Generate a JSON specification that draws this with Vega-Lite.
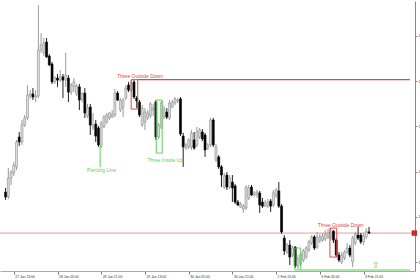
{
  "$schema": "https://vega.github.io/schema/vega-lite/v6.json",
  "width": 415,
  "height": 270,
  "autosize": {"type": "none"},
  "padding": {"left": 0, "top": 1, "right": 5, "bottom": 9},
  "background": "white",
  "config": {"view": {"stroke": null}, "font": "Liberation Sans", "axisX": {"labelOverlap": false, "labelFontSize": 3.4}},
  "datasets": {
    "candles": [
      {"n":-3,"o":1.1331,"h":1.13328,"l":1.13275,"c":1.13288},
      {"n":-2,"o":1.13288,"h":1.13416,"l":1.13279,"c":1.13372},
      {"n":-1,"o":1.13372,"h":1.13407,"l":1.13341,"c":1.13398},
      {"n":0,"o":1.13394,"h":1.13443,"l":1.13381,"c":1.13429},
      {"n":1,"o":1.13421,"h":1.1354,"l":1.13407,"c":1.13531},
      {"n":2,"o":1.13553,"h":1.13575,"l":1.13513,"c":1.13531},
      {"n":3,"o":1.13531,"h":1.13628,"l":1.13518,"c":1.13606},
      {"n":4,"o":1.13606,"h":1.1365,"l":1.13597,"c":1.13637},
      {"n":5,"o":1.13637,"h":1.13782,"l":1.13628,"c":1.13738},
      {"n":6,"o":1.13734,"h":1.1376,"l":1.13721,"c":1.13743},
      {"n":7,"o":1.13743,"h":1.13769,"l":1.13716,"c":1.13729},
      {"n":8,"o":1.13729,"h":1.1376,"l":1.13707,"c":1.13734},
      {"n":9,"o":1.13734,"h":1.14135,"l":1.13725,"c":1.13937},
      {"n":10,"o":1.13937,"h":1.14012,"l":1.13924,"c":1.13959},
      {"n":11,"o":1.13924,"h":1.1399,"l":1.1391,"c":1.13968},
      {"n":12,"o":1.13972,"h":1.1399,"l":1.13902,"c":1.13906},
      {"n":13,"o":1.1391,"h":1.13919,"l":1.13866,"c":1.13871},
      {"n":14,"o":1.13875,"h":1.13884,"l":1.13787,"c":1.13796},
      {"n":15,"o":1.13796,"h":1.13822,"l":1.13787,"c":1.13813},
      {"n":16,"o":1.13813,"h":1.13831,"l":1.13774,"c":1.13804},
      {"n":17,"o":1.13804,"h":1.13849,"l":1.13796,"c":1.13822},
      {"n":18,"o":1.13818,"h":1.13831,"l":1.13725,"c":1.13804},
      {"n":19,"o":1.13804,"h":1.13924,"l":1.13774,"c":1.13826},
      {"n":20,"o":1.13813,"h":1.13826,"l":1.13707,"c":1.13751},
      {"n":21,"o":1.13751,"h":1.13791,"l":1.13738,"c":1.13782},
      {"n":22,"o":1.13778,"h":1.13813,"l":1.13751,"c":1.13796},
      {"n":23,"o":1.13743,"h":1.13787,"l":1.13734,"c":1.13778},
      {"n":24,"o":1.13774,"h":1.13787,"l":1.13672,"c":1.13716},
      {"n":25,"o":1.13721,"h":1.13751,"l":1.13707,"c":1.13743},
      {"n":26,"o":1.13747,"h":1.13769,"l":1.13637,"c":1.13659},
      {"n":27,"o":1.13646,"h":1.13699,"l":1.13637,"c":1.13681},
      {"n":28,"o":1.13685,"h":1.13699,"l":1.13562,"c":1.13606},
      {"n":29,"o":1.13597,"h":1.13659,"l":1.13584,"c":1.13606},
      {"n":30,"o":1.1361,"h":1.13628,"l":1.13531,"c":1.13557},
      {"n":31,"o":1.13593,"h":1.13601,"l":1.13509,"c":1.13518},
      {"n":32,"o":1.13513,"h":1.13624,"l":1.13504,"c":1.13615},
      {"n":33,"o":1.13597,"h":1.1365,"l":1.13593,"c":1.13641},
      {"n":34,"o":1.13619,"h":1.13659,"l":1.1361,"c":1.1365},
      {"n":35,"o":1.13637,"h":1.13663,"l":1.13628,"c":1.13659},
      {"n":36,"o":1.13641,"h":1.13672,"l":1.13637,"c":1.13654},
      {"n":37,"o":1.1365,"h":1.13765,"l":1.13641,"c":1.13747},
      {"n":38,"o":1.13747,"h":1.13756,"l":1.13712,"c":1.13716},
      {"n":39,"o":1.13672,"h":1.13725,"l":1.13663,"c":1.13716},
      {"n":40,"o":1.13681,"h":1.13725,"l":1.13641,"c":1.13716},
      {"n":41,"o":1.13725,"h":1.13782,"l":1.13716,"c":1.13769},
      {"n":42,"o":1.13782,"h":1.13796,"l":1.13751,"c":1.1376},
      {"n":43,"o":1.1376,"h":1.13804,"l":1.13751,"c":1.13791},
      {"n":44,"o":1.13796,"h":1.13804,"l":1.13721,"c":1.13729},
      {"n":45,"o":1.13725,"h":1.13734,"l":1.13681,"c":1.13712},
      {"n":46,"o":1.13707,"h":1.13716,"l":1.13641,"c":1.1365},
      {"n":47,"o":1.13606,"h":1.13694,"l":1.13597,"c":1.13681},
      {"n":48,"o":1.13619,"h":1.13681,"l":1.13584,"c":1.13663},
      {"n":49,"o":1.13637,"h":1.13672,"l":1.13628,"c":1.13659},
      {"n":50,"o":1.13646,"h":1.13707,"l":1.13637,"c":1.13699},
      {"n":51,"o":1.13672,"h":1.13699,"l":1.13646,"c":1.13681},
      {"n":52,"o":1.13707,"h":1.13716,"l":1.1354,"c":1.13553},
      {"n":53,"o":1.13553,"h":1.13615,"l":1.13544,"c":1.13606},
      {"n":54,"o":1.13597,"h":1.13712,"l":1.13588,"c":1.13703},
      {"n":55,"o":1.13641,"h":1.1369,"l":1.13632,"c":1.13676},
      {"n":56,"o":1.13663,"h":1.13681,"l":1.13632,"c":1.13641},
      {"n":57,"o":1.13637,"h":1.13716,"l":1.13628,"c":1.13703},
      {"n":58,"o":1.13685,"h":1.13716,"l":1.13681,"c":1.13707},
      {"n":59,"o":1.13703,"h":1.13729,"l":1.13694,"c":1.13721},
      {"n":60,"o":1.13712,"h":1.13725,"l":1.13703,"c":1.13716},
      {"n":61,"o":1.13721,"h":1.13729,"l":1.13557,"c":1.13566},
      {"n":62,"o":1.13557,"h":1.13571,"l":1.13421,"c":1.13509},
      {"n":63,"o":1.13504,"h":1.13526,"l":1.13496,"c":1.13518},
      {"n":64,"o":1.13509,"h":1.13548,"l":1.135,"c":1.1354},
      {"n":65,"o":1.13509,"h":1.13584,"l":1.13496,"c":1.13571},
      {"n":66,"o":1.1354,"h":1.13575,"l":1.13496,"c":1.13504},
      {"n":67,"o":1.13518,"h":1.13597,"l":1.13509,"c":1.13575},
      {"n":68,"o":1.13553,"h":1.13593,"l":1.13544,"c":1.13584},
      {"n":69,"o":1.13575,"h":1.13588,"l":1.13535,"c":1.13544},
      {"n":70,"o":1.13562,"h":1.13571,"l":1.13465,"c":1.13496},
      {"n":71,"o":1.13504,"h":1.13526,"l":1.13496,"c":1.13518},
      {"n":72,"o":1.13518,"h":1.13637,"l":1.13509,"c":1.13628},
      {"n":73,"o":1.13628,"h":1.13637,"l":1.13509,"c":1.13518},
      {"n":74,"o":1.13451,"h":1.13522,"l":1.13443,"c":1.13509},
      {"n":75,"o":1.13465,"h":1.13473,"l":1.13412,"c":1.13421},
      {"n":76,"o":1.13421,"h":1.13429,"l":1.13332,"c":1.13385},
      {"n":77,"o":1.13332,"h":1.13394,"l":1.13323,"c":1.13381},
      {"n":78,"o":1.13385,"h":1.13398,"l":1.13319,"c":1.13332},
      {"n":79,"o":1.13332,"h":1.13385,"l":1.13323,"c":1.13372},
      {"n":80,"o":1.13354,"h":1.13385,"l":1.13266,"c":1.13328},
      {"n":81,"o":1.13337,"h":1.13346,"l":1.13257,"c":1.13266},
      {"n":82,"o":1.13266,"h":1.13275,"l":1.13248,"c":1.13253},
      {"n":83,"o":1.13244,"h":1.13266,"l":1.1324,"c":1.13257},
      {"n":84,"o":1.13235,"h":1.13257,"l":1.13218,"c":1.13248},
      {"n":85,"o":1.1324,"h":1.13341,"l":1.13231,"c":1.13332},
      {"n":86,"o":1.13284,"h":1.13341,"l":1.13275,"c":1.13328},
      {"n":87,"o":1.13332,"h":1.13341,"l":1.13293,"c":1.13297},
      {"n":88,"o":1.13297,"h":1.13315,"l":1.13288,"c":1.13306},
      {"n":89,"o":1.13301,"h":1.13319,"l":1.13284,"c":1.1331},
      {"n":90,"o":1.13306,"h":1.13315,"l":1.13218,"c":1.13253},
      {"n":91,"o":1.13266,"h":1.13284,"l":1.1324,"c":1.13248},
      {"n":92,"o":1.13248,"h":1.13275,"l":1.13244,"c":1.13262},
      {"n":93,"o":1.13248,"h":1.13279,"l":1.1324,"c":1.13266},
      {"n":94,"o":1.1327,"h":1.13279,"l":1.13222,"c":1.13248},
      {"n":95,"o":1.13253,"h":1.13319,"l":1.13244,"c":1.13306},
      {"n":96,"o":1.13293,"h":1.13328,"l":1.13284,"c":1.13319},
      {"n":97,"o":1.13315,"h":1.13354,"l":1.1324,"c":1.13248},
      {"n":98,"o":1.13248,"h":1.13257,"l":1.13125,"c":1.13134},
      {"n":99,"o":1.13107,"h":1.1312,"l":1.13032,"c":1.1305},
      {"n":100,"o":1.13045,"h":1.13085,"l":1.13037,"c":1.13076},
      {"n":101,"o":1.13076,"h":1.13098,"l":1.12988,"c":1.13023},
      {"n":102,"o":1.13032,"h":1.13072,"l":1.13023,"c":1.13063},
      {"n":103,"o":1.13067,"h":1.13072,"l":1.12975,"c":1.12984},
      {"n":104,"o":1.12984,"h":1.13032,"l":1.1297,"c":1.13015},
      {"n":105,"o":1.12992,"h":1.13045,"l":1.12984,"c":1.13037},
      {"n":106,"o":1.1301,"h":1.13059,"l":1.13001,"c":1.1305},
      {"n":107,"o":1.13023,"h":1.13072,"l":1.13015,"c":1.13063},
      {"n":108,"o":1.13054,"h":1.13098,"l":1.13045,"c":1.1309},
      {"n":109,"o":1.13085,"h":1.1312,"l":1.13076,"c":1.13112},
      {"n":110,"o":1.13112,"h":1.1312,"l":1.13054,"c":1.13063},
      {"n":111,"o":1.13067,"h":1.13134,"l":1.13059,"c":1.13112},
      {"n":112,"o":1.13094,"h":1.13125,"l":1.13085,"c":1.13112},
      {"n":113,"o":1.13098,"h":1.13129,"l":1.1309,"c":1.13116},
      {"n":114,"o":1.13103,"h":1.13142,"l":1.13094,"c":1.13125},
      {"n":115,"o":1.13112,"h":1.13147,"l":1.13103,"c":1.13129},
      {"n":116,"o":1.13107,"h":1.13151,"l":1.13098,"c":1.13134},
      {"n":117,"o":1.13138,"h":1.13142,"l":1.13085,"c":1.13098},
      {"n":118,"o":1.13098,"h":1.13107,"l":1.13023,"c":1.13032},
      {"n":119,"o":1.13032,"h":1.13045,"l":1.13001,"c":1.1301},
      {"n":120,"o":1.13001,"h":1.13045,"l":1.12992,"c":1.13032},
      {"n":121,"o":1.13019,"h":1.13054,"l":1.1301,"c":1.13045},
      {"n":122,"o":1.13045,"h":1.13085,"l":1.13037,"c":1.13063},
      {"n":123,"o":1.13063,"h":1.13076,"l":1.13023,"c":1.13032},
      {"n":124,"o":1.13001,"h":1.13116,"l":1.12979,"c":1.13107},
      {"n":125,"o":1.13085,"h":1.13134,"l":1.13076,"c":1.13125},
      {"n":126,"o":1.1312,"h":1.13156,"l":1.13098,"c":1.13107},
      {"n":127,"o":1.1312,"h":1.13129,"l":1.13081,"c":1.1309},
      {"n":128,"o":1.1309,"h":1.13129,"l":1.13076,"c":1.13116},
      {"n":129,"o":1.13112,"h":1.13151,"l":1.13103,"c":1.13138},
      {"n":130,"o":1.13134,"h":1.13156,"l":1.13125,"c":1.13129}
    ],
    "boxes": [
      {"pattern":"Three Outside Down","signal":"bearish","start":42.96,"end":45.36,"top":1.13806,"bottom":1.13676},
      {"pattern":"Three Inside Up","signal":"bullish","start":52.14,"end":54.3,"top":1.13716,"bottom":1.13482},
      {"pattern":"Three Inside Up","signal":"bullish","start":102.86,"end":105.0,"top":1.13063,"bottom":1.12966},
      {"pattern":"Three Outside Down","signal":"bearish","start":115.7,"end":118.2,"top":1.13151,"bottom":1.13023}
    ],
    "levels": [
      {"signal":"bearish","start":45.36,"end":145,"price":1.13806},
      {"signal":"bullish","start":105.0,"end":145,"price":1.12966}
    ],
    "markers": [
      {"signal":"bullish","n":31.6,"from":1.13513,"to":1.13421}
    ],
    "labels": [
      {"text":"Three Outside Down","signal":"bearish","n":46.2,"price":1.1382},
      {"text":"Piercing Line","signal":"bullish","n":32.1,"price":1.13407},
      {"text":"Three Inside Up","signal":"bullish","n":55.4,"price":1.13451},
      {"text":"Three Outside Down","signal":"bearish","n":119.6,"price":1.13165}
    ],
    "arrows": [
      {"text":"⇧","signal":"bullish","n":132.5,"price":1.12988}
    ],
    "bid": [{"price":1.13129}]
  },
  "layer": [
    {
      "data": {"name": "bid"},
      "mark": {"type": "rule", "color": "#e69a9a", "strokeWidth": 1},
      "encoding": {
        "y": {"field": "price", "type": "quantitative", "scale": {"domain": [1.129616, 1.141531], "nice": false, "zero": false},
          "axis": {"orient": "right", "title": null, "grid": false,
            "values": [1.13,1.1305,1.131,1.1315,1.132,1.1325,1.133,1.1335,1.134,1.1345,1.135,1.1355,1.136,1.1365,1.137,1.1375,1.138,1.1385,1.139,1.1395,1.14,1.1405,1.141,1.1415],
            "format": ".4f", "labelFontSize": 4, "labelColor": "#333", "tickSize": 2, "labelPadding": 1,
            "domainColor": "#888", "tickColor": "#888", "labelBound": false, "labelOverlap": false, "labelFlush": false}}
      }
    },
    {
      "data": {"name": "candles"},
      "layer": [
        {
          "mark": {"type": "rule", "strokeWidth": 1},
          "encoding": {
            "x": {"field": "n", "type": "quantitative", "scale": {"domain": [-3.214, 145], "nice": false, "zero": false},
              "axis": {"title": null, "grid": false, "values": [0,8,16,24,32,40,48,56,64,72,80,88,96,104,112,120,128],
                "labelExpr": "['27 Jan 13:00','27 Jan 21:00','28 Jan 05:00','28 Jan 13:00','28 Jan 21:00','29 Jan 05:00','29 Jan 13:00','29 Jan 21:00','30 Jan 05:00','30 Jan 13:00','30 Jan 21:00','2 Feb 05:00','2 Feb 13:00','2 Feb 21:00','3 Feb 05:00','3 Feb 13:00','3 Feb 21:00'][round(datum.value/8)]",
                "labelAlign": "left", "labelBaseline": "top", "labelFontSize": 3.4, "labelColor": "#333", "labelOffset": 1,
                "tickSize": 3, "labelPadding": 0, "domainColor": "#aaa", "tickColor": "#777",
                "labelBound": false, "labelOverlap": false, "labelFlush": false}},
            "y": {"field": "l", "type": "quantitative"},
            "y2": {"field": "h"},
            "color": {"condition": {"test": "datum.c < datum.o", "value": "#222222"}, "value": "#9a9a9a"}
          }
        },
        {
          "mark": {"type": "bar", "width": 2, "strokeWidth": 0.6},
          "encoding": {
            "x": {"field": "n", "type": "quantitative"},
            "y": {"field": "o", "type": "quantitative"},
            "y2": {"field": "c"},
            "fill": {"condition": {"test": "datum.c < datum.o", "value": "#000000"}, "value": "#dedede"},
            "stroke": {"condition": {"test": "datum.c < datum.o", "value": "#000000"}, "value": "#8e8e8e"}
          }
        }
      ]
    },
    {
      "data": {"name": "boxes"},
      "mark": {"type": "rect", "fill": null, "fillOpacity": 0, "strokeWidth": 1},
      "encoding": {
        "x": {"field": "start", "type": "quantitative"},
        "x2": {"field": "end"},
        "y": {"field": "top", "type": "quantitative"},
        "y2": {"field": "bottom"},
        "stroke": {"field": "signal", "type": "nominal", "scale": {"domain": ["bearish", "bullish"], "range": ["#e04848", "#5ccf5c"]}, "legend": null}
      }
    },
    {
      "data": {"name": "levels"},
      "mark": {"type": "rule", "strokeWidth": 1.2},
      "encoding": {
        "x": {"field": "start", "type": "quantitative"},
        "x2": {"field": "end"},
        "y": {"field": "price", "type": "quantitative"},
        "color": {"field": "signal", "type": "nominal", "scale": {"domain": ["bearish", "bullish"], "range": ["#e04848", "#5ccf5c"]}, "legend": null}
      }
    },
    {
      "data": {"name": "markers"},
      "mark": {"type": "rule", "strokeWidth": 1},
      "encoding": {
        "x": {"field": "n", "type": "quantitative"},
        "y": {"field": "from", "type": "quantitative"},
        "y2": {"field": "to"},
        "color": {"field": "signal", "type": "nominal", "legend": null}
      }
    },
    {
      "data": {"name": "labels"},
      "mark": {"type": "text", "fontSize": 5, "align": "center", "baseline": "middle", "font": "Liberation Sans"},
      "encoding": {
        "x": {"field": "n", "type": "quantitative"},
        "y": {"field": "price", "type": "quantitative"},
        "text": {"field": "text"},
        "color": {"field": "signal", "type": "nominal", "legend": null}
      }
    },
    {
      "data": {"name": "arrows"},
      "mark": {"type": "text", "fontSize": 9, "align": "center", "baseline": "middle", "font": "DejaVu Sans"},
      "encoding": {
        "x": {"field": "n", "type": "quantitative"},
        "y": {"field": "price", "type": "quantitative"},
        "text": {"field": "text"},
        "color": {"field": "signal", "type": "nominal", "legend": null}
      }
    },
    {
      "data": {"name": "bid"},
      "mark": {"type": "square", "color": "#cc2a2a", "size": 30, "opacity": 1},
      "encoding": {
        "x": {"datum": 146.6},
        "y": {"field": "price", "type": "quantitative"}
      }
    },
    {
      "mark": {"type": "rule", "color": "#9a9a9a", "strokeWidth": 1.5},
      "encoding": {"y": {"datum": 1.141531}}
    }
  ]
}
